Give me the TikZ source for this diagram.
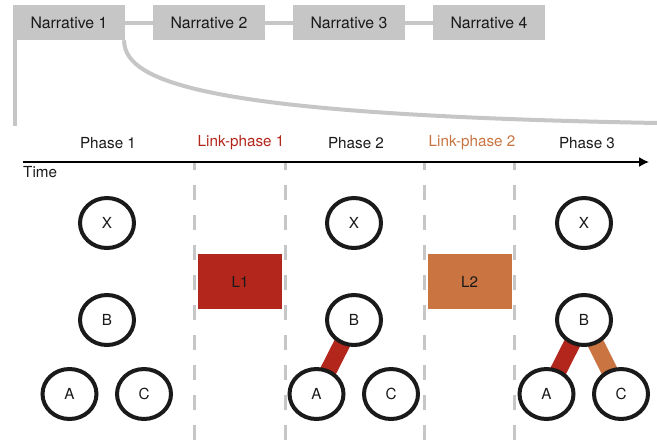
\documentclass[tikz,border=0pt]{standalone}
\usepackage{fontspec}
\setmainfont{TeX Gyre Heros}
\usetikzlibrary{shapes.geometric,backgrounds,arrows.meta}
\definecolor{linkred}{HTML}{B2261B}
\definecolor{linkorange}{HTML}{C97441}
\definecolor{narrgray}{HTML}{C6C6C6}
\definecolor{ink}{HTML}{1A1A1A}

\begin{document}
\begin{tikzpicture}[x=0.03cm,y=-0.03cm,font=\fontsize{13}{15}\selectfont,text=ink,
  narr/.style={fill=narrgray, minimum width=3.36cm, minimum height=1.05cm, inner sep=0, font=\fontsize{13.5}{15}\selectfont},
  narrline/.style={draw=narrgray, line width=0.12cm},
  ent/.style={draw=ink, fill=white, ellipse, line width=0.12cm, minimum width=1.62cm, minimum height=1.5cm, inner sep=0},
  lnk/.style={minimum width=2.52cm, minimum height=1.65cm, inner sep=0},
  sep/.style={draw=narrgray, line width=0.09cm, dash pattern=on 0.45cm off 0.45cm, dash phase=0.24cm},
  band/.style={line width=0.5cm}]
\useasboundingbox (0,0) rectangle (657,442);

% narratives
\node[narr] (n1) at (69,22.5) {Narrative 1};
\node[narr] (n2) at (209,22.5) {Narrative 2};
\node[narr] (n3) at (349,22.5) {Narrative 3};
\node[narr] (n4) at (489,22.5) {Narrative 4};
\draw[narrline] (n1) -- (n2);
\draw[narrline] (n2) -- (n3);
\draw[narrline] (n3) -- (n4);
\coordinate (zl) at (15,126);
\coordinate (zr) at (657,123);
\draw[narrline] (zl |- n1.south) -- (zl);
\draw[narrline] ([xshift=-1pt]n1.south east) .. controls +(0,45) and (220,115) .. (zr);

% time axis
\coordinate (t0) at (23,162);
\coordinate (t1) at (649,162);
\draw[-{Latex[length=0.3cm,width=0.3cm]}, line width=0.045cm, draw=black] (t0) -- (t1);
\node[anchor=west, inner sep=0] (time) at (23,172) {Time};

\node (p1) at (108,143) {Phase 1};
\node[text=linkred] (lp1) at (241,143) {Link-phase 1};
\node (p2) at (356,143) {Phase 2};
\node[text=linkorange] (lp2) at (472,143) {Link-phase 2};
\node (p3) at (587,143) {Phase 3};

\foreach \x in {194,285,424,514}
  \draw[sep] (\x,163) -- (\x,442);

\node[lnk, fill=linkred] (l1) at (240,281.5) {L1};
\node[lnk, fill=linkorange] (l2) at (469.5,281.5) {L2};

% entities per phase
\foreach \i/\cx in {1/107,2/354,3/584} {
  \node[ent] (x\i) at (\cx,223) {X};
  \node[ent] (b\i) at (\cx,320) {B};
  \node[ent] (a\i) at (\cx-37.5,394) {A};
  \node[ent] (c\i) at (\cx+37,394) {C};
}

\begin{scope}[on background layer]
\draw[band, linkred] (b2.center) -- (a2.center);
\draw[band, linkred] (b3.center) -- (a3.center);
\draw[band, linkorange] (b3.center) -- (c3.center);
\end{scope}
\end{tikzpicture}
\end{document}
